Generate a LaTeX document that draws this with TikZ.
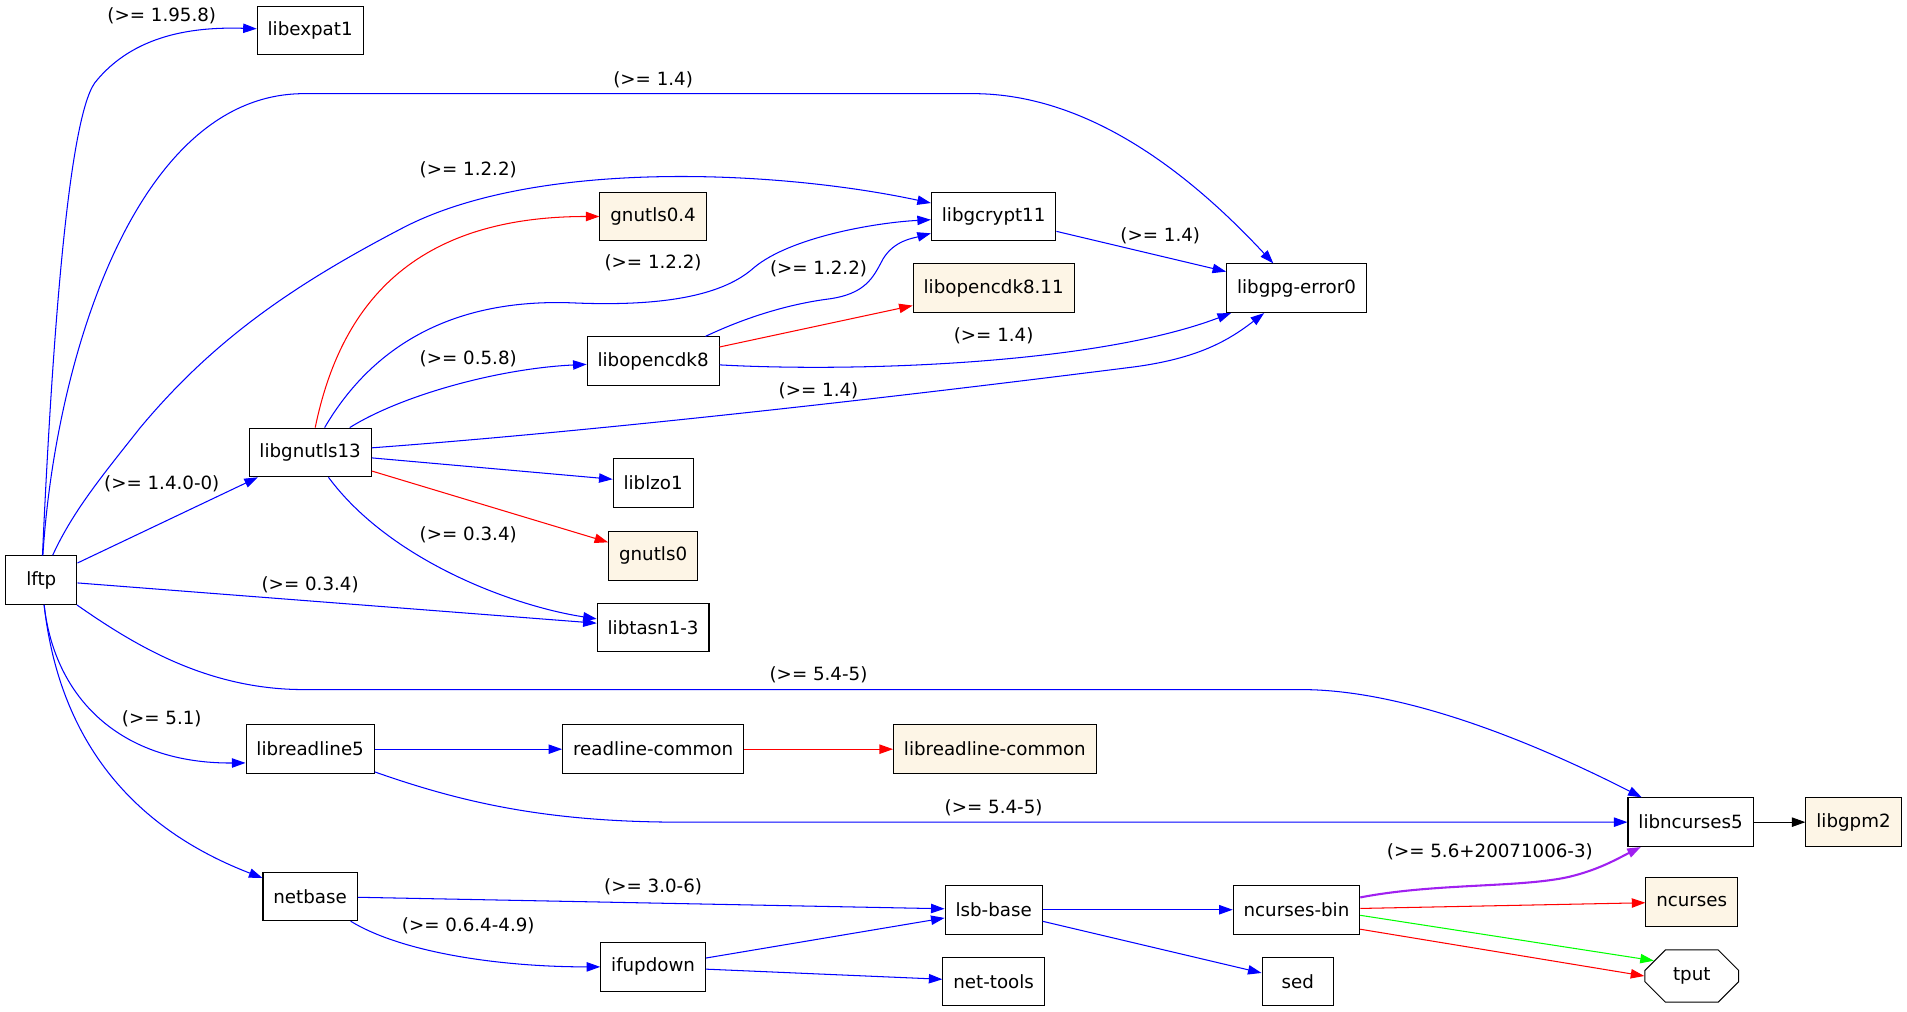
\documentclass[tikz,border=0pt]{standalone}
\usepackage{fontspec}
\setmainfont{DejaVu Sans}
\usepackage{tikz}
\usetikzlibrary{arrows.meta,shapes.misc}
\definecolor{oldlace}{HTML}{FDF5E6}
\definecolor{gvpurple}{HTML}{A020F0}
\definecolor{gvgreen}{HTML}{00FF00}
\newcommand\pkgfont{\fontsize{10.5pt}{12pt}\selectfont}

\begin{document}
\begin{tikzpicture}[x=0.7pt,y=-0.7pt,
    dep/.style={draw=blue, line width=0.6pt, -{Triangle[length=7.8pt,width=5.4pt]}},
    virt/.style={fill=oldlace}]

        \useasboundingbox (0,0) rectangle (1568,832);

        \begin{scope}[every node/.style={draw, rectangle, line width=0.6pt, font=\pkgfont,
            minimum width=41pt, minimum height=28pt, inner xsep=6pt}]
          \node (lftp)     at (34,477)   {lftp};
          \node (expat)    at (255,25)   {libexpat1};
          \node (gnutls13) at (255,372)  {libgnutls13};
          \node[virt] (gnutlsa) at (537,178) {gnutls0.4};
          \node (gcrypt)   at (817,178)  {libgcrypt11};
          \node (gpgerr)   at (1066,237) {libgpg-error0};
          \node[virt] (opencdkb) at (817,237) {libopencdk8.11};
          \node (opencdk)  at (537,297)  {libopencdk8};
          \node (lzo)      at (537,397)  {liblzo1};
          \node[virt] (gnutlsb) at (537,457) {gnutls0};
          \node (tasn)     at (537,516)  {libtasn1-3};
          \node (rl5)      at (255,616)  {libreadline5};
          \node (rlcommon) at (537,616)  {readline-common};
          \node[virt] (librlcommon) at (818,616) {libreadline-common};
          \node (ncur5)    at (1390,676) {libncurses5};
          \node[virt] (gpm) at (1524,676) {libgpm2};
          \node (netbase)  at (255,737)  {netbase};
          \node (lsb)      at (817,748)  {lsb-base};
          \node (nbin)     at (1066,748) {ncurses-bin};
          \node[virt] (ncurses) at (1391,741.5) {ncurses};
          \node (ifup)     at (537,795)  {ifupdown};
          \node (nettools) at (817,807)  {net-tools};
          \node (sed)      at (1067,807) {sed};
          \node[chamfered rectangle, chamfered rectangle xsep=14pt, chamfered rectangle ysep=7pt,
            minimum width=54pt, minimum height=30pt, inner sep=0pt] (tput) at (1391,802.5) {tput};
        \end{scope}

        \begin{scope}[every node/.style={font=\pkgfont, inner sep=1pt}]
          \node (v1)  at (133,13)   {(>= 1.95.8)};
          \node (v2)  at (537,66)   {(>= 1.4)};
          \node (v3)  at (385,140)  {(>= 1.2.2)};
          \node (v4)  at (537,216)  {(>= 1.2.2)};
          \node (v5)  at (673,221)  {(>= 1.2.2)};
          \node (v6)  at (954,194)  {(>= 1.4)};
          \node (v7)  at (817,276)  {(>= 1.4)};
          \node (v8)  at (385,295)  {(>= 0.5.8)};
          \node (v9)  at (673,321)  {(>= 1.4)};
          \node (v10) at (133,398)  {(>= 1.4.0-0)};
          \node (v11) at (385,440)  {(>= 0.3.4)};
          \node (v12) at (255,481)  {(>= 0.3.4)};
          \node (v13) at (673,555)  {(>= 5.4-5)};
          \node (v14) at (133,591)  {(>= 5.1)};
          \node (v15) at (817,664)  {(>= 5.4-5)};
          \node (v16) at (1225,700) {(>= 5.6+20071006-3)};
          \node (v17) at (537,729)  {(>= 3.0-6)};
          \node (v18) at (385,761)  {(>= 0.6.4-4.9)};
        \end{scope}

        \draw[dep] (lftp) .. controls (42,300) and (55,100) .. (78,68) .. controls (110,28) and (160,22) .. (expat);
        \draw[dep] (lftp) .. controls (45,300) and (110,77) .. (250,77) -- (800,77) .. controls (900,77) and (985,150) .. (gpgerr);
        \draw[dep] (lftp) .. controls (60,420) and (85,390) .. (115,352) .. controls (175,280) and (240,235) .. (330,188) .. controls (440,130) and (640,140) .. (gcrypt);
        \draw[dep] (lftp) .. controls (110,530) and (170,567) .. (250,567) -- (1070,567) .. controls (1160,567) and (1270,615) .. (ncur5);
        \draw[dep] (lftp) .. controls (45,575) and (100,628) .. (rl5.192);
        \draw[dep] (lftp) .. controls (50,620) and (120,685) .. (netbase);
        \draw[dep, draw=red] (gnutls13) .. controls (280,250) and (340,178) .. (gnutlsa);
        \draw[dep] (gnutls13) .. controls (300,295) and (360,245) .. (470,249) .. controls (560,253) and (600,238) .. (620,220) .. controls (650,195) and (720,183) .. (gcrypt);
        \draw[dep] (gnutls13) .. controls (330,325) and (410,303) .. (opencdk);
        \draw[dep] (gnutls13) .. controls (550,350) and (850,312) .. (930,302) .. controls (985,295) and (1010,280) .. (gpgerr);
        \draw[dep] (gnutls13) .. controls (320,460) and (420,498) .. (tasn);
        \draw[dep] (opencdk) .. controls (615,260) and (650,250) .. (680,246) .. controls (712,242) and (718,228) .. (726,213) .. controls (735,198) and (750,196) .. (gcrypt);
        \draw[dep] (opencdk) .. controls (700,306) and (900,300) .. (gpgerr);
        \draw[dep] (rl5) .. controls (380,660) and (450,676) .. (560,676) -- (ncur5);
        \draw[dep] (netbase) .. controls (330,783) and (410,795) .. (ifup);
        \draw[dep, draw=gvpurple, line width=1.2pt] (nbin) .. controls (1180,726) and (1250,730) .. (1290,721) .. controls (1315,715) and (1330,706) .. (ncur5);

        \begin{scope}[every edge/.style={dep}]
          \path (lftp) edge (gnutls13);
          \path (lftp) edge (tasn);
          \path (gnutls13) edge (lzo);
          \path (gnutls13) edge[draw=red] (gnutlsb);
          \path (opencdk) edge[draw=red] (opencdkb);
          \path (gcrypt) edge (gpgerr);
          \path (rl5) edge (rlcommon);
          \path (rlcommon) edge[draw=red] (librlcommon);
          \path (ncur5) edge[draw=black] (gpm);
          \path (netbase) edge (lsb);
          \path (ifup) edge (lsb);
          \path (ifup) edge (nettools);
          \path (lsb) edge (nbin);
          \path (lsb) edge (sed);
          \path (nbin) edge[draw=red] (ncurses);
          \path (nbin.-5) edge[draw=gvgreen] (tput.158);
          \path (nbin.-17) edge[draw=red] (tput.west);
        \end{scope}

      \end{tikzpicture}
\end{document}
